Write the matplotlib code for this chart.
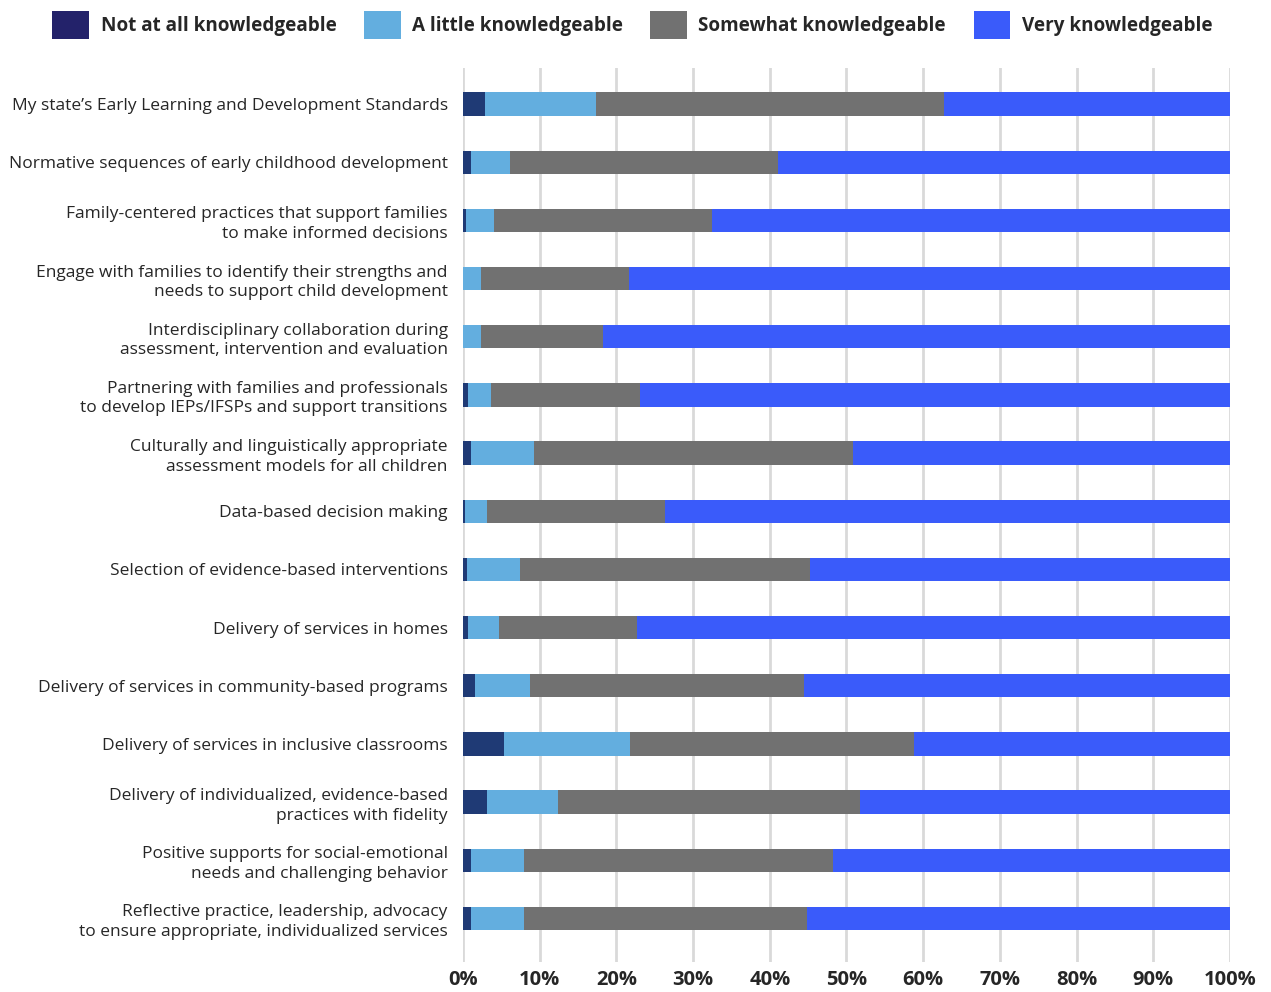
import matplotlib.pyplot as plt
from matplotlib.patches import Patch
import numpy as np

plt.rcParams['font.family'] = ['Open Sans', 'DejaVu Sans']

categories = [
    "My state\u2019s Early Learning and Development Standards",
    "Normative sequences of early childhood development",
    "Family-centered practices that support families\nto make informed decisions",
    "Engage with families to identify their strengths and\nneeds to support child development",
    "Interdisciplinary collaboration during\nassessment, intervention and evaluation",
    "Partnering with families and professionals\nto develop IEPs/IFSPs and support transitions",
    "Culturally and linguistically appropriate\nassessment models for all children",
    "Data-based decision making",
    "Selection of evidence-based interventions",
    "Delivery of services in homes",
    "Delivery of services in community-based programs",
    "Delivery of services in inclusive classrooms",
    "Delivery of individualized, evidence-based\npractices with fidelity",
    "Positive supports for social-emotional\nneeds and challenging behavior",
    "Reflective practice, leadership, advocacy\nto ensure appropriate, individualized services",
]

series_names = ["Not at all knowledgeable", "A little knowledgeable",
                "Somewhat knowledgeable", "Very knowledgeable"]

# percentages
not_at_all = [2.9, 1.1, 0.4, 0.0, 0.0, 0.7, 1.0, 0.3, 0.5, 0.7, 1.6, 5.4, 3.1, 1.0, 1.0]
a_little   = [14.5, 5.0, 3.6, 2.3, 2.3, 2.9, 8.3, 2.8, 6.9, 4.0, 7.1, 16.4, 9.3, 6.9, 6.9]
somewhat   = [45.3, 35.0, 28.5, 19.3, 16.0, 19.5, 41.5, 23.2, 37.8, 18.0, 35.7, 37.0, 39.3, 40.4, 36.9]
very       = [37.3, 58.9, 67.5, 78.4, 81.7, 76.9, 49.2, 73.7, 54.8, 77.3, 55.6, 41.2, 48.3, 51.7, 55.2]

colors = ['#1F3A75', '#63AEDF', '#717171', '#3A5BFA']
legend_colors = ['#23226A', '#63AEDF', '#717171', '#3A5BFA']

fig = plt.figure(figsize=(12.71, 9.92), dpi=100)
ax = fig.add_axes([0.3643, 0.0302, 0.6034, 0.9013])

y = np.arange(len(categories))
left = np.zeros(len(categories))
for vals, col, name in zip([not_at_all, a_little, somewhat, very], colors, series_names):
    vals = np.array(vals)
    ax.barh(y, vals, left=left, height=0.40, color=col, label=name, zorder=3)
    left += vals

ax.set_xlim(0, 100)
ax.set_ylim(14.75, -0.62)
ax.set_xticks(np.arange(0, 101, 10))
ax.set_xticklabels([f"{v}%" for v in range(0, 101, 10)], fontsize=14.5, fontweight='bold', color='#262626')
ax.set_yticks(y)
ax.set_yticklabels(categories, fontsize=12.5, color='#262626', linespacing=1.3)
ax.tick_params(axis='y', length=0, pad=11)
ax.tick_params(axis='x', length=0, pad=6)
ax.grid(axis='x', color='#d9d9d9', linewidth=2, zorder=0)
for s in ax.spines.values():
    s.set_visible(False)

handles = [Patch(facecolor=c, edgecolor='none') for c in legend_colors]
fig.legend(handles=handles, labels=series_names, loc='center', bbox_to_anchor=(0.4975, 0.975),
           ncol=4, frameon=False, prop={'size': 13.6, 'weight': 'bold'},
           handlelength=1.95, handleheight=1.95, handletextpad=0.6, columnspacing=1.45,
           labelcolor='#262626')

fig.savefig("out.png", dpi=100)
